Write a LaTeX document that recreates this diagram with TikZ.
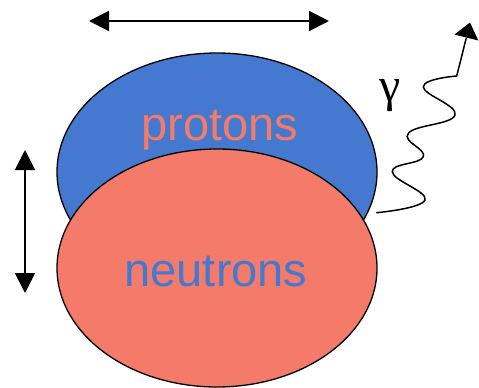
\documentclass[tikz,border=0pt]{standalone}
\usepackage{fontspec}
\setmainfont{Liberation Sans}
\newfontfamily\greekserif{Liberation Serif}
\usetikzlibrary{shapes.geometric,arrows.meta}
\definecolor{nucblue}{HTML}{4479CF}
\definecolor{nucsalmon}{HTML}{F47A6A}
\tikzset{
  nucleon/.style={ellipse, draw=black, line width=1.3pt, minimum width=320pt, minimum height=238pt, inner sep=0pt},
  biglabel/.style={font=\fontsize{47}{50}\selectfont, anchor=base, inner sep=0pt},
  dimarrow/.style={line width=2pt, {Triangle[length=20pt,width=20pt]}-{Triangle[length=20pt,width=20pt]}},
  photon/.style={line width=1.5pt, line cap=round}
}
\begin{document}
\begin{tikzpicture}[x=1pt,y=-1pt]
\useasboundingbox (0,0) rectangle (479,388);
\node[nucleon, fill=nucblue] (P) at (217,172) {};
\node[biglabel, text=nucsalmon] (pt) at (220,140) {protons};
\node[nucleon, fill=nucsalmon] (N) at (217,268) {};
\node[biglabel, text=nucblue] (nt) at (216,286) {neutrons};
% dimension arrows
\coordinate (hl) at (89,21);
\coordinate (hr) at (329,21);
\draw[dimarrow] (hl) -- (hr);
\coordinate (vt) at (25,150);
\coordinate (vb) at (25,293);
\draw[dimarrow] (vt) -- (vb);
% photon
\coordinate (ws) at (376.7,212.7);
\coordinate (we) at (456.7,76);
\coordinate (tip) at (470,22.5);
\coordinate (hb) at (466.4,37.5);
\coordinate (hbl) at (454.5,34.5);
\coordinate (hbr) at (478.3,40.5);
\draw[photon] plot[smooth, tension=0.75] coordinates {(ws) (425,200) (392.3,171.7) (423.3,156.7) (408.3,133.3) (455,115) (423.3,86.7) (we)};
\draw[line width=1.5pt] (we) -- (hb);
\fill[black] (tip) -- (hbl) -- (hbr) -- cycle;
\node[font=\greekserif\fontsize{48}{50}\selectfont, inner sep=0pt] (g) at (390,95.5) {γ};
\end{tikzpicture}
\end{document}
